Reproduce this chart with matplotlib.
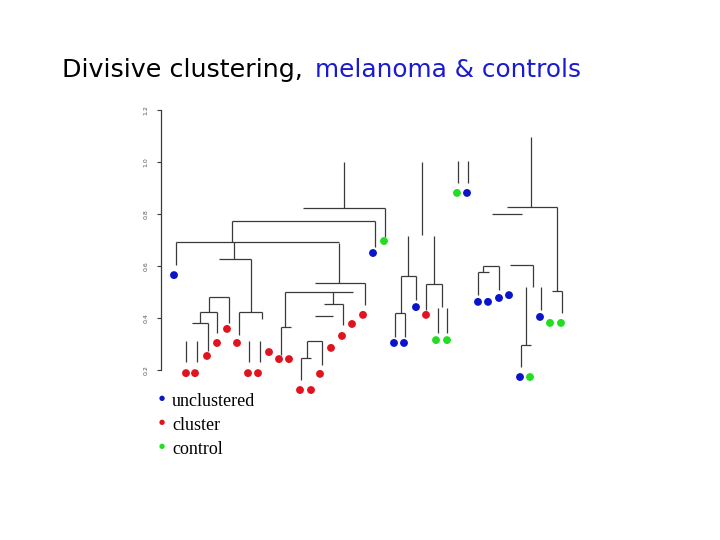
import matplotlib
matplotlib.use("Agg")
import matplotlib.pyplot as plt

# ---- data -------------------------------------------------------------
# leaf points: x position (leaf axis units), merge height, group
blue_x = [13, 212, 306, 233, 243, 255, 317, 327, 338, 348, 379, 359]
blue_y = [0.565, 0.650, 0.881, 0.304, 0.304, 0.442, 0.462, 0.462, 0.477, 0.488, 0.404, 0.173]
red_x = [25, 34, 46, 56, 66, 76, 87, 97, 108, 118, 128, 139, 150, 159, 170, 181, 191, 202, 265]
red_y = [0.188, 0.188, 0.254, 0.304, 0.358, 0.304, 0.188, 0.188, 0.269, 0.242, 0.242,
         0.123, 0.123, 0.185, 0.285, 0.331, 0.377, 0.412, 0.412]
green_x = [223, 296, 275, 286, 389, 400, 369]
green_y = [0.696, 0.881, 0.315, 0.315, 0.381, 0.381, 0.173]

# horizontal dendrogram links: height, x start, x end
h_y = [0.692, 0.773, 0.627, 0.423, 0.481, 0.423, 0.381, 0.365, 0.500, 0.535, 0.454, 0.408,
       0.312, 0.246, 0.823, 0.562, 0.419, 0.531, 0.827, 0.800, 0.604, 0.504, 0.296, 0.600, 0.577]
h_x0 = [15, 71, 58, 78, 48, 39, 31, 120, 124, 154, 163, 154,
        146, 140, 142, 240, 234, 265, 346, 331, 349, 391, 360, 322, 317]
h_x1 = [178, 214, 90, 101, 68, 56, 47, 130, 192, 204, 182, 172,
        161, 150, 224, 255, 244, 281, 396, 361, 372, 401, 370, 338, 328]

# vertical dendrogram links: x, top height, bottom height
v_x = [15, 71, 73, 90, 78, 101, 68, 48, 56, 39, 47, 25, 36, 88, 99, 120, 124, 178, 204, 172,
       182, 161, 146, 140, 183, 224, 214, 240, 255, 234, 244, 247, 261, 273, 265, 281, 277,
       286, 297, 307, 370, 396, 401, 372, 380, 365, 360, 338, 322, 317]
v_top = [0.692, 0.773, 0.692, 0.627, 0.423, 0.423, 0.481, 0.481, 0.423, 0.423, 0.381, 0.312,
         0.312, 0.312, 0.312, 0.365, 0.500, 0.688, 0.535, 0.500, 0.454, 0.312, 0.312, 0.246,
         1.000, 0.823, 0.773, 0.562, 0.562, 0.419, 0.419, 0.715, 1.000, 0.715, 0.531, 0.531,
         0.438, 0.438, 1.004, 1.004, 1.096, 0.827, 0.504, 0.604, 0.519, 0.519, 0.296, 0.600,
         0.600, 0.577]
v_bot = [0.604, 0.692, 0.627, 0.423, 0.335, 0.396, 0.381, 0.423, 0.342, 0.381, 0.273, 0.231,
         0.231, 0.231, 0.231, 0.258, 0.365, 0.535, 0.450, 0.454, 0.373, 0.219, 0.246, 0.162,
         0.823, 0.712, 0.673, 0.419, 0.469, 0.327, 0.327, 0.562, 0.719, 0.531, 0.431, 0.442,
         0.342, 0.342, 0.919, 0.919, 0.827, 0.504, 0.419, 0.519, 0.431, 0.296, 0.212, 0.508,
         0.577, 0.488]

y_ticks = [0.2, 0.4, 0.6, 0.8, 1.0, 1.2]
y_ticklabels = ["0.2", "0.4", "0.6", "0.8", "1.0", "1.2"]
legend_labels = ["unclustered", "cluster", "control"]

BLUE = "#0a14c8"
RED = "#e0141e"
GREEN = "#22dd22"
LINE = "#3a3a3a"

# ---- figure -----------------------------------------------------------
fig = plt.figure(figsize=(7.2, 5.4), dpi=100)
ax = fig.add_axes([0, 0, 1, 1])
ax.set_xlim(-161, 720 - 161)
ax.set_ylim(0.2 - 170 / 260, 0.2 + 370 / 260)
ax.patch.set_alpha(0)

ax.hlines(h_y, h_x0, h_x1, color=LINE, lw=0.9)
ax.vlines(v_x, v_bot, v_top, color=LINE, lw=0.9)

ms = 32
ax.scatter(blue_x, blue_y, s=ms, color=BLUE, edgecolors="none", zorder=3)
ax.scatter(red_x, red_y, s=ms, color=RED, edgecolors="none", zorder=3)
ax.scatter(green_x, green_y, s=ms, color=GREEN, edgecolors="none", zorder=3)

for s in ["top", "right", "bottom"]:
    ax.spines[s].set_visible(False)
ax.spines["left"].set_position(("data", 0))
ax.spines["left"].set_bounds(0.2, 1.2)
ax.spines["left"].set_color(LINE)
ax.spines["left"].set_linewidth(0.9)
ax.set_xticks([])
ax.set_yticks(y_ticks)
ax.set_yticklabels(y_ticklabels, rotation=90, va="center", fontsize=4.5, color="#555555")
ax.tick_params(axis="y", direction="out", length=3, width=0.8, color=LINE, pad=6)

# title
fig.text(62 / 720, 1 - 70 / 540, "Divisive clustering,", fontsize=18.3, color="black",
         va="center", ha="left", family="DejaVu Sans")
fig.text(315 / 720, 1 - 70 / 540, "melanoma & controls", fontsize=17.8, color="#1a1ad0",
         va="center", ha="left", family="DejaVu Sans")

# legend
leg_colors = [BLUE, RED, GREEN]
leg_y = [398, 422, 446]
for lab, c, yy in zip(legend_labels, leg_colors, leg_y):
    fig.text(162 / 720, 1 - yy / 540, "\u25CF", color=c, fontsize=5, ha="center", va="center")
    fig.text(172 / 720, 1 - (yy + 3) / 540, lab, color="black", fontsize=13,
             family="Liberation Serif", ha="left", va="center")

fig.savefig("out.png", dpi=100)
